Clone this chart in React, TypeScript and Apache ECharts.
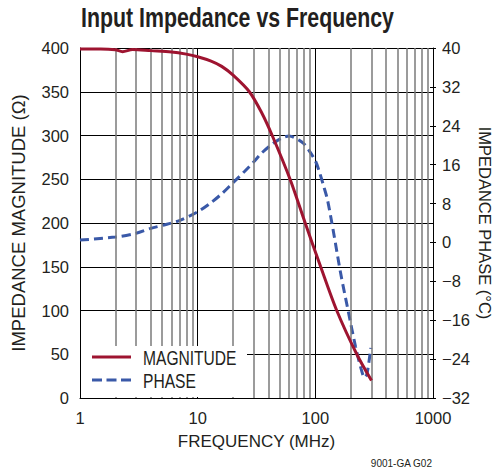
import React, { useEffect, useRef } from "react";
import * as echarts from "echarts";

const TITLE = "Input Impedance vs Frequency";
const FOOTER = "9001-GA G02";
const X_NAME = "FREQUENCY (MHz)";
const Y_LEFT_NAME = "IMPEDANCE MAGNITUDE (Ω)";
const Y_RIGHT_NAME = "IMPEDANCE PHASE (°C)";
const SERIES_NAMES = ["MAGNITUDE", "PHASE"];

const magFreq = [1, 1.5, 2, 2.3, 2.8, 4, 6, 8, 10, 13, 16, 20, 27.5, 35, 43, 61, 82, 111, 152, 225, 300];
const magnitude = [399, 399, 398, 395.8, 398.3, 397, 395.5, 393, 390, 385, 379, 369, 350, 326, 300, 250, 200, 150, 100, 50, 20];

const phaseFreq = [1, 2, 3, 4, 5, 7, 10, 13, 16, 20, 25, 30, 35, 44, 52, 60, 72, 80, 88, 100, 107, 118, 127, 143, 164, 191, 220, 245, 262, 275, 296];
const phase = [0.5, 1.1, 1.9, 2.9, 3.5, 4.5, 6.3, 8.2, 10, 12.3, 14.6, 16.6, 18.4, 20.4, 21.5, 21.9, 21.1, 20.3, 19, 16.8, 14.9, 11.5, 8.7, 2, -6.3, -14.3, -21.5, -26, -27.8, -27, -21.7];

const minorFreqs = [2, 3, 4, 5, 6, 7, 8, 9, 20, 30, 40, 50, 60, 70, 80, 90, 200, 300, 400, 500, 600, 700, 800, 900];

const FONT = "'Liberation Sans', Arial, Helvetica, sans-serif";
const INK = "#231f20";
const RED = "#9e1430";
const BLUE = "#3a59a8";

export default function App() {
  const ref = useRef<HTMLDivElement>(null);
  useEffect(() => {
    if (!ref.current) return;
    const chart = echarts.init(ref.current, null, { renderer: "svg" });
    const fmtMinus = (v: number) => String(v).replace("-", "\u2212");
    chart.setOption({
      animation: false,
      grid: { left: 80, top: 48, right: 60, bottom: 74, containLabel: false, outerBoundsMode: "none" },
      xAxis: {
        type: "log",
        logBase: 10,
        min: 1,
        max: 1000,
        splitNumber: 3,
        name: X_NAME,
        nameLocation: "middle",
        nameGap: 35,
        nameTextStyle: { fontFamily: FONT, fontSize: 17, color: INK },
        axisLine: { show: true, lineStyle: { color: "#000", width: 1 } },
        axisTick: { show: false },
        axisLabel: { fontFamily: FONT, fontSize: 16.5, color: INK, margin: 11, formatter: (v: number) => String(v) },
        splitLine: { show: true, lineStyle: { color: "#000", width: 1 } },
      },
      yAxis: [
        {
          type: "value",
          min: 0,
          max: 400,
          interval: 50,
          position: "left",
          name: Y_LEFT_NAME,
          nameLocation: "middle",
          nameGap: 52,
          nameTextStyle: { fontFamily: FONT, fontSize: 18.5, color: INK },
          axisLine: { show: true, lineStyle: { color: "#000", width: 1 } },
          axisTick: { show: false },
          axisLabel: { fontFamily: FONT, fontSize: 16.5, color: INK, margin: 11 },
          splitLine: { show: true, lineStyle: { color: "#000", width: 1 } },
        },
        {
          type: "value",
          min: -32,
          max: 40,
          interval: 8,
          position: "right",
          axisLine: { show: true, lineStyle: { color: "#000", width: 1 } },
          axisTick: { show: true, inside: false, length: 3, lineStyle: { color: "#000" } },
          axisLabel: { fontFamily: FONT, fontSize: 16.5, color: INK, margin: 9, formatter: fmtMinus },
          splitLine: { show: false },
        },
        {
          type: "value",
          min: -32,
          max: 40,
          interval: 8,
          position: "right",
          axisLine: { show: false },
          axisTick: { show: true, inside: true, length: 3, lineStyle: { color: "#000" } },
          axisLabel: { show: false },
          splitLine: { show: false },
        },
      ],
      graphic: [
        {
          type: "text",
          z: 51,
          x: 81,
          y: 18,
          scaleX: 0.79,
          style: { text: TITLE, fontFamily: FONT, fontWeight: "bold", fontSize: 27, fill: INK, verticalAlign: "middle" },
        },
        {
          type: "text",
          z: 51,
          x: 485,
          y: 223,
          rotation: -Math.PI / 2,
          style: { text: Y_RIGHT_NAME, fontFamily: FONT, fontSize: 16.5, fill: INK, align: "center", verticalAlign: "middle" },
        },
        { type: "rect", z: 50, shape: { x: 81, y: 346, width: 166, height: 51 }, style: { fill: "#fff" } },
        { type: "line", z: 51, shape: { x1: 92, y1: 357, x2: 131, y2: 357 }, style: { stroke: RED, lineWidth: 3 } },
        { type: "line", z: 51, shape: { x1: 92, y1: 380, x2: 131, y2: 380 }, style: { stroke: BLUE, lineWidth: 3, lineDash: [10, 4.5] } },
        { type: "text", z: 51, x: 143, y: 358, scaleX: 0.8, style: { text: SERIES_NAMES[0], fontFamily: FONT, fontSize: 19.5, fill: INK, verticalAlign: "middle" } },
        { type: "text", z: 51, x: 143, y: 381, scaleX: 0.8, style: { text: SERIES_NAMES[1], fontFamily: FONT, fontSize: 19.5, fill: INK, verticalAlign: "middle" } },
        { type: "text", z: 51, x: 432, y: 463, style: { text: FOOTER, fontFamily: FONT, fontSize: 10, fill: INK, align: "right", verticalAlign: "middle" } },
      ],
      series: [
        {
          type: "line",
          name: "grid-minor",
          data: [],
          z: 1,
          silent: true,
          markLine: {
            silent: true,
            symbol: "none",
            label: { show: false },
            lineStyle: { color: "#7a7a7a", width: 1.5, type: "solid" },
            data: minorFreqs.map((f) => ({ xAxis: f })),
          },
        },
        {
          type: "line",
          name: SERIES_NAMES[0],
          yAxisIndex: 0,
          z: 5,
          showSymbol: false,
          symbol: "none",
          smooth: 0.3,
          lineStyle: { color: RED, width: 3 },
          data: magFreq.map((f, i) => [f, magnitude[i]]),
        },
        {
          type: "line",
          name: SERIES_NAMES[1],
          yAxisIndex: 1,
          z: 4,
          showSymbol: false,
          symbol: "none",
          smooth: 0.3,
          lineStyle: { color: BLUE, width: 3, type: [9, 5] },
          data: phaseFreq.map((f, i) => [f, phase[i]]),
        },
      ],
    });
    return () => chart.dispose();
  }, []);
  return <div ref={ref} style={{ position: "absolute", left: 0, top: 0, width: 493, height: 472 }} />;
}
